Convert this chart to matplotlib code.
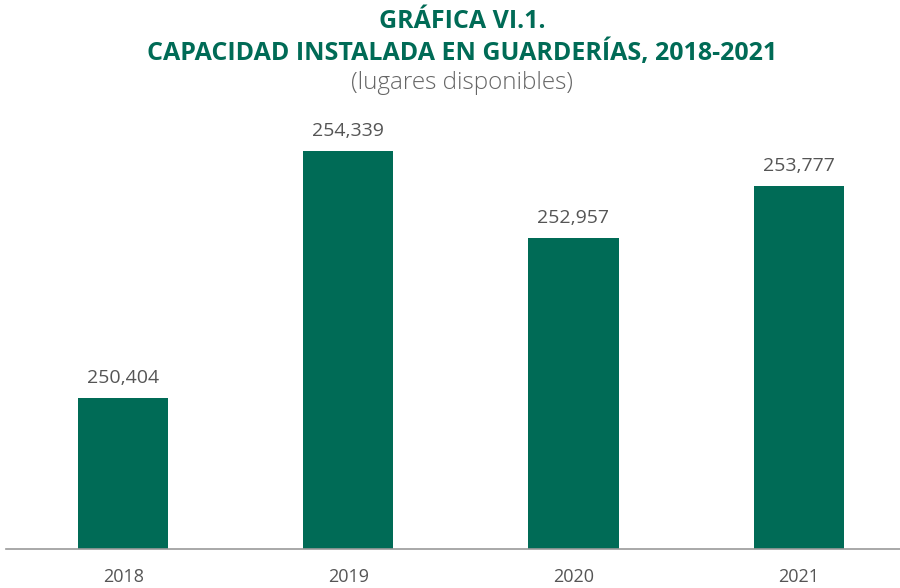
import matplotlib
matplotlib.use("Agg")
import matplotlib.pyplot as plt

years = ["2018", "2019", "2020", "2021"]
values = [250404, 254339, 252957, 253777]

green = "#006B56"
grey = "#555555"

plt.rcParams['font.family'] = ['Open Sans', 'DejaVu Sans']

fig = plt.figure(figsize=(9, 5.88), dpi=100)
ax = fig.add_axes([6/900, 1-549/588, 1-6/900, (549-109.6)/588])

x = list(range(len(years)))
ax.bar(x, values, width=0.4, color=green, zorder=2)
ax.set_ylim(248000, 255000)
ax.set_xlim(-0.52, 3.45)

for xi, v in zip(x, values):
    ax.annotate(f"{v:,}", (xi, v), xytext=(0, 8), textcoords="offset points",
                ha="center", va="bottom", fontsize=14, color=grey)

ax.set_xticks(x)
ax.set_xticklabels(years, fontsize=13, color=grey)
ax.tick_params(axis="x", length=0, pad=14)
ax.set_yticks([])
for s in ["top", "right", "left"]:
    ax.spines[s].set_visible(False)
ax.spines["bottom"].set_color("#999999")
ax.spines["bottom"].set_linewidth(1.2)

fig.text(462/900, 1-22/588, "GRÁFICA VI.1.", ha="center", va="center",
         fontsize=18, fontweight="bold", color=green)
fig.text(462/900, 1-53/588, "CAPACIDAD INSTALADA EN GUARDERÍAS, 2018-2021", ha="center",
         va="center", fontsize=18, fontweight="bold", color=green)
fig.text(462/900, 1-83/588, "(lugares disponibles)", ha="center", va="center",
         fontsize=17.5, color="#666666", fontweight="light")

fig.savefig("out.png", dpi=100)
